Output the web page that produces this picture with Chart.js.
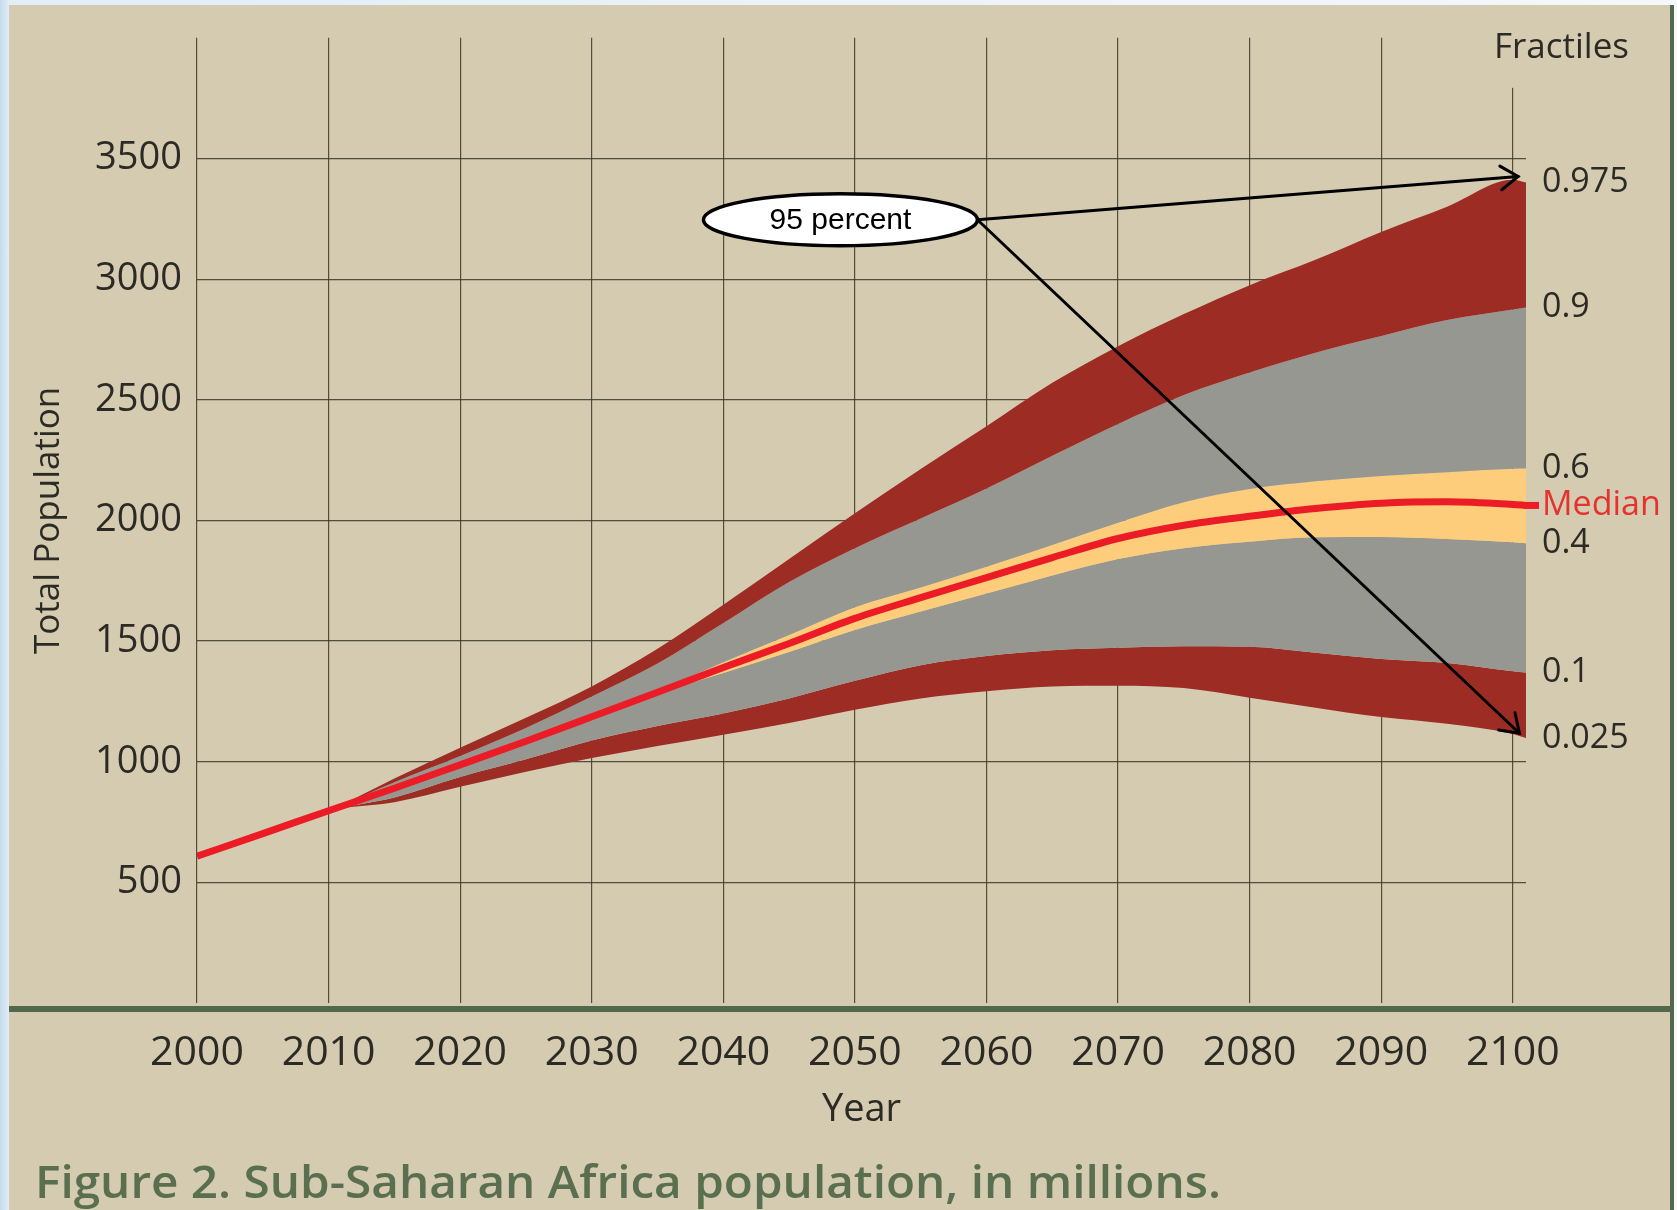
<!DOCTYPE html>
<html><head><meta charset="utf-8">
<script src="https://cdn.jsdelivr.net/npm/chart.js@4.4.1/dist/chart.umd.min.js"></script>
<style>
html,body{margin:0;padding:0;width:1677px;height:1210px;overflow:hidden;
background:linear-gradient(to right,#c4dbee 0px,#e3edf6 9px,#f4f8fb 100%);}
#c{position:absolute;left:0;top:0;}
</style></head><body>
<canvas id="c" width="1677" height="1210"></canvas>
<script>
// ---------- data ----------
const years  = [2000,2005,2010,2015,2020,2025,2030,2035,2040,2045,2050,2055,2060,2065,2070,2075,2080,2085,2090,2095,2100,2101];
const q975   = [608,702,797,930,1058,1182,1312,1468,1650,1840,2030,2213,2390,2570,2722,2855,2975,3080,3195,3300,3412,3400];
const q90    = [608,702,797,915,1024,1140,1270,1407,1575,1745,1885,2008,2132,2268,2400,2520,2613,2695,2764,2830,2874,2882];
const q60    = [608,702,797,891,989,1087,1189,1293,1412,1525,1640,1722,1808,1898,1990,2075,2130,2162,2184,2200,2214,2215];
const median = [608,702,797,890,987,1085,1186,1288,1390,1490,1594,1680,1763,1846,1925,1980,2017,2049,2071,2077,2066,2062];
const q40    = [608,702,797,889,985,1083,1183,1283,1368,1455,1546,1622,1697,1772,1840,1885,1912,1930,1931,1923,1909,1905];
const q10    = [608,702,797,852,937,1010,1088,1148,1200,1262,1335,1400,1438,1462,1472,1478,1476,1451,1426,1409,1375,1370];
const q025   = [608,702,797,832,896,958,1015,1065,1112,1160,1215,1262,1292,1312,1315,1305,1265,1224,1185,1157,1115,1098];

const fractileNames  = ['0.975','0.9','0.6','Median','0.4','0.1','0.025'];
const fractileSeries = [q975, q90, q60, median, q40, q10, q025];

const yTickValues = [500,1000,1500,2000,2500,3000,3500];
const xTickValues = [2000,2010,2020,2030,2040,2050,2060,2070,2080,2090,2100];

const titleText   = 'Figure 2. Sub-Saharan Africa population, in millions.';
const annotText   = '95 percent';
const annotCenter = [2048.9, 3246];               // year, population
const annotTips   = [[2100.4, 3425], [2100.5, 1118]];

// ---------- styles ----------
const FONT = '"Open Sans", "Noto Sans", sans-serif';
const BG = '#d4cbb1', TXT = '#2c2a25', GRID = 'rgba(60,55,40,0.85)';
const DARKRED = '#9d2c24', GRAY = '#979791', YELLOW = '#fdcd7b', RED = '#ec1c26', GREEN = '#53674a';

const pts = arr => years.map((yr, i) => ({x: yr, y: arr[i]}));
const band = (arr, color) => ({data: pts(arr), fill: '+1', backgroundColor: color,
  borderColor: 'rgba(0,0,0,0)', borderWidth: 0, pointRadius: 0, cubicInterpolationMode: 'monotone'});

const deco = {
  id: 'deco',
  beforeDraw(chart) {
    const ctx = chart.ctx; ctx.save();
    ctx.fillStyle = BG; ctx.fillRect(9, 5, 1661, 1205);
    ctx.restore();
  },
  beforeDatasetsDraw(chart) {
    const {ctx, scales: {x}, chartArea} = chart;
    const px = x.getPixelForValue(2100);
    ctx.save(); ctx.fillStyle = BG;
    ctx.fillRect(px - 3, chartArea.top - 1, 6, 51);
    ctx.restore();
  },
  afterDatasetsDraw(chart) {
    const {ctx, scales: {x, y}, chartArea} = chart;
    ctx.save();
    // median extension to its label
    const my = y.getPixelForValue(median[median.length - 1]);
    ctx.strokeStyle = RED; ctx.lineWidth = 7;
    ctx.beginPath(); ctx.moveTo(chartArea.right - 2, my); ctx.lineTo(chartArea.right + 13, my); ctx.stroke();
    // fractile labels
    ctx.font = '34px ' + FONT; ctx.textBaseline = 'middle'; ctx.textAlign = 'left';
    fractileNames.forEach((nm, i) => {
      const s = fractileSeries[i];
      ctx.fillStyle = nm === 'Median' ? '#e4322f' : TXT;
      ctx.fillText(nm, chartArea.right + 16, y.getPixelForValue(s[s.length - 1]));
    });
    ctx.font = '35px ' + FONT; ctx.textAlign = 'right'; ctx.fillStyle = TXT;
    ctx.fillText('Fractiles', 1629, 48);
    // green frame lines
    ctx.fillStyle = GREEN;
    ctx.fillRect(9, 1006, 1663, 6);
    ctx.fillRect(1670, 5, 4, 1205);
    // annotation arrows
    const cx = x.getPixelForValue(annotCenter[0]), cy = y.getPixelForValue(annotCenter[1]);
    const rx = 137, ry = 26;
    const sx = cx + rx, sy = cy;
    ctx.strokeStyle = '#000'; ctx.lineWidth = 3; ctx.lineCap = 'round';
    annotTips.forEach(t => {
      const tx = x.getPixelForValue(t[0]), ty = y.getPixelForValue(t[1]);
      ctx.beginPath(); ctx.moveTo(sx, sy); ctx.lineTo(tx, ty); ctx.stroke();
      const a = Math.atan2(ty - sy, tx - sx), L = 21;
      ctx.beginPath();
      ctx.moveTo(tx - L * Math.cos(a - 0.6), ty - L * Math.sin(a - 0.6));
      ctx.lineTo(tx, ty);
      ctx.lineTo(tx - L * Math.cos(a + 0.6), ty - L * Math.sin(a + 0.6));
      ctx.stroke();
    });
    // ellipse
    ctx.beginPath(); ctx.ellipse(cx, cy, rx, ry, 0, 0, Math.PI * 2);
    ctx.fillStyle = '#fff'; ctx.fill(); ctx.lineWidth = 3.5; ctx.stroke();
    ctx.fillStyle = '#000'; ctx.font = '30px "Liberation Sans", Arial, sans-serif';
    ctx.textAlign = 'center'; ctx.textBaseline = 'middle';
    ctx.fillText(annotText, cx, cy + 1);
    // caption
    ctx.font = '600 46px ' + FONT; ctx.textAlign = 'left'; ctx.textBaseline = 'alphabetic';
    const w = ctx.measureText(titleText).width;
    ctx.translate(35, 1198); ctx.scale(1186 / w, 1);
    ctx.fillStyle = '#5a6f4f'; ctx.fillText(titleText, 0, 0);
    ctx.restore();
  }
};

new Chart(document.getElementById('c'), {
  type: 'line',
  data: {
    datasets: [
      band(q975, DARKRED),
      band(q90, GRAY),
      band(q60, YELLOW),
      band(q40, GRAY),
      band(q10, DARKRED),
      {data: pts(q025), fill: false, borderColor: 'rgba(0,0,0,0)', borderWidth: 0, pointRadius: 0, cubicInterpolationMode: 'monotone'},
      {data: pts(median), fill: false, borderColor: RED, borderWidth: 7, pointRadius: 0, order: -1,
       cubicInterpolationMode: 'monotone', borderCapStyle: 'butt'}
    ]
  },
  options: {
    responsive: false, animation: false, devicePixelRatio: 1,
    layout: {padding: {left: 9, top: 31, right: 151, bottom: 77}},
    plugins: {legend: {display: false}, tooltip: {enabled: false}},
    scales: {
      x: {
        type: 'linear', min: 2000, max: 2101,
        afterBuildTicks: s => { s.ticks = xTickValues.map(v => ({value: v})); },
        ticks: {includeBounds: false, autoSkip: false, maxRotation: 0, padding: 26, color: TXT,
                font: {family: FONT, size: 41}, callback: v => String(v)},
        grid: {color: GRID, lineWidth: 1.2, drawTicks: false},
        border: {display: false},
        title: {display: true, text: 'Year', color: TXT, font: {family: FONT, size: 38}, padding: {top: 0, bottom: 0}},
        afterFit: s => { s.height = 130; }
      },
      y: {
        min: 0, max: 4000,
        afterBuildTicks: s => { s.ticks = [0].concat(yTickValues, [4000]).map(v => ({value: v})); },
        ticks: {padding: 15, color: TXT, font: {family: FONT, size: 38},
                callback: v => yTickValues.includes(v) ? String(v) : ''},
        grid: {color: c => (c.tick && yTickValues.includes(c.tick.value)) ? GRID : 'rgba(0,0,0,0)', lineWidth: 1.2, drawTicks: false},
        border: {display: false},
        title: {display: true, text: 'Total Population', color: TXT, font: {family: FONT, size: 35}, padding: {top: 19, bottom: 0}},
        afterFit: s => { s.width = 188; }
      }
    }
  },
  plugins: [deco]
});
</script>
</body></html>
